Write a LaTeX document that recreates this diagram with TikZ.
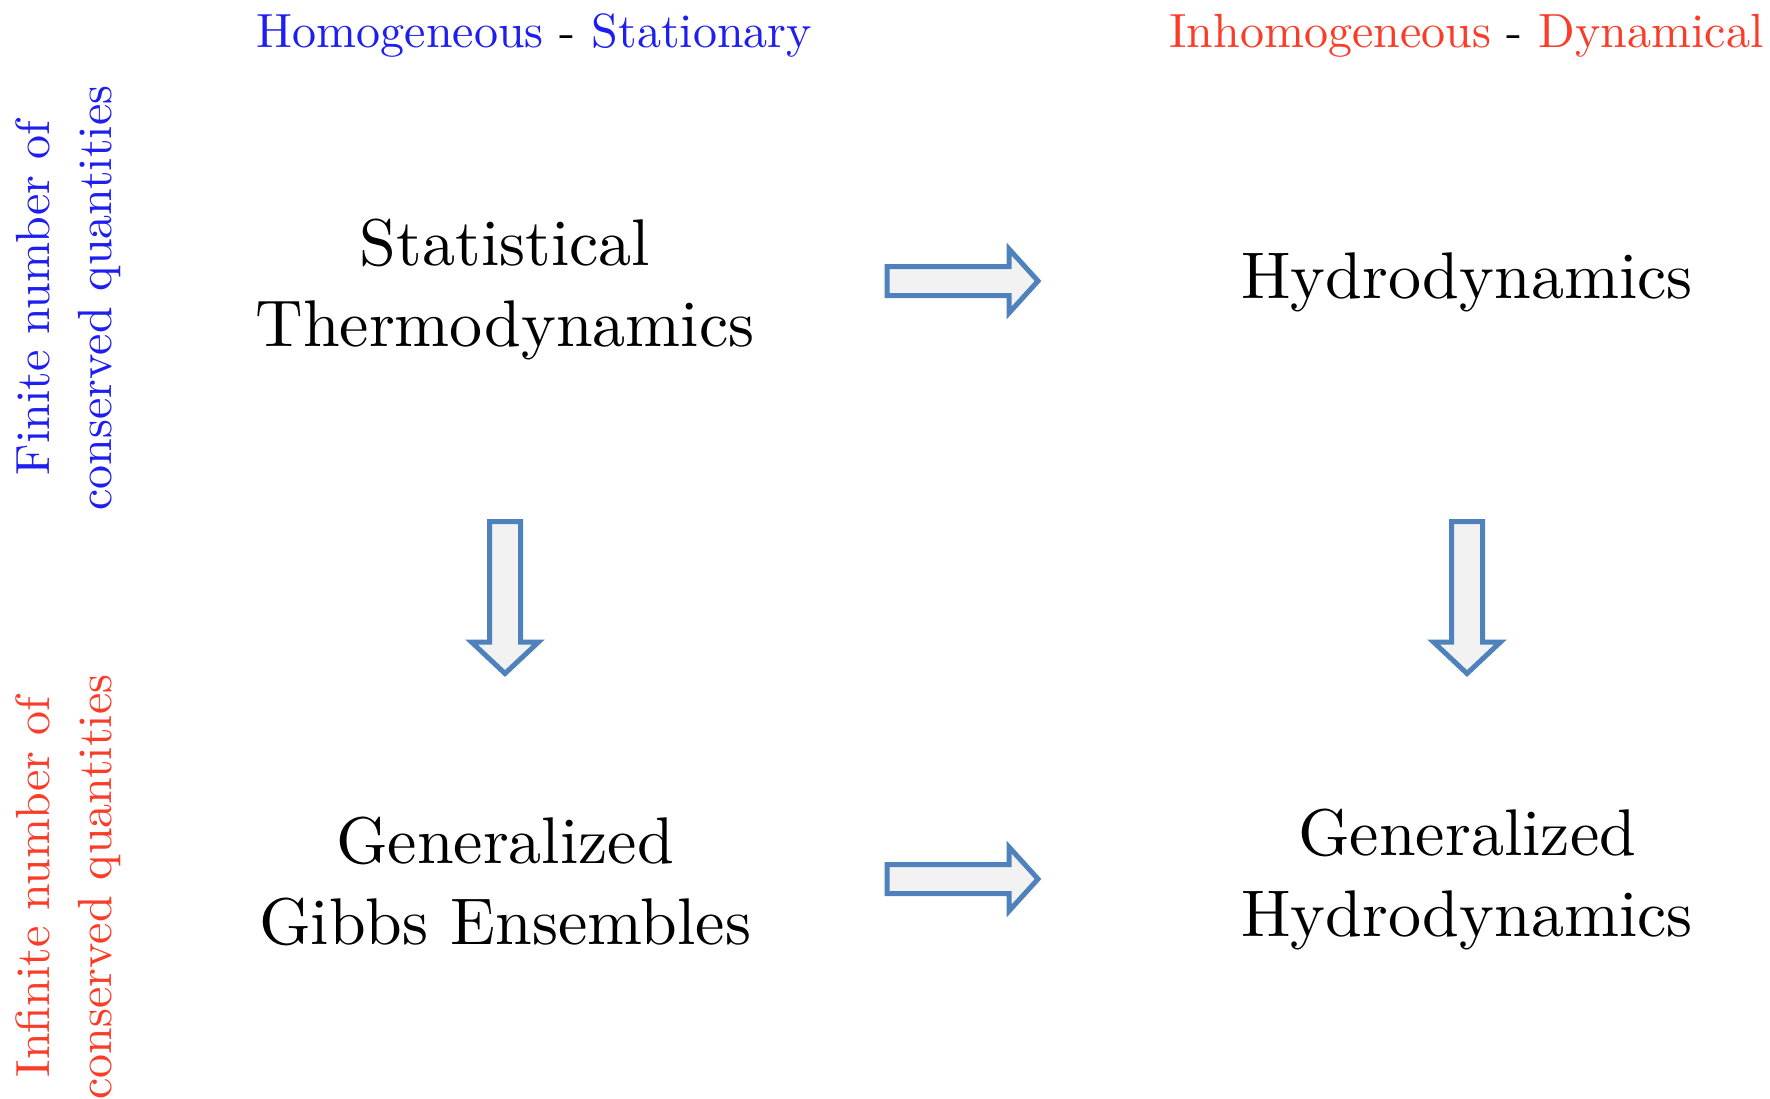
\documentclass[tikz,border=0pt]{standalone}
\usepackage{fontspec}
\setmainfont{lmroman10-regular}[Extension=.otf]
\definecolor{hblue}{RGB}{30,30,240}
\definecolor{hred}{RGB}{250,60,40}
\definecolor{arrowline}{HTML}{4F81BD}
\definecolor{arrowfill}{HTML}{F2F2F2}
\tikzset{
  header/.style={font=\fontsize{48}{58}\selectfont, inner sep=0pt, anchor=base},
  sidelabel/.style={font=\fontsize{48}{62}\selectfont, inner sep=0pt, align=center, rotate=90},
  maintext/.style={font=\fontsize{66}{81}\selectfont, inner sep=0pt, align=center},
  blockarrow/.style={draw=arrowline, fill=arrowfill, line width=5pt, line join=miter}
}
\begin{document}
\begin{tikzpicture}[x=1pt,y=-1pt]
\useasboundingbox (0,0) rectangle (1770,1098);
\fill[white] (0,0) rectangle (1770,1098);

% headers
\node[header] (hL) at (534.5,47) {\textcolor{hblue}{Homogeneous} - \textcolor{hblue}{Stationary}};
\node[header] (hR) at (1466.5,47) {\textcolor{hred}{Inhomogeneous} - \textcolor{hred}{Dynamical}};

% side labels
\node[sidelabel, text=hblue] (sT) at (68,298) {Finite number of\\conserved quantities};
\node[sidelabel, text=hred] (sB) at (68,887) {Infinite number of\\conserved quantities};

% main texts
\node[maintext, anchor=north] (st) at (505,219) {Statistical\\Thermodynamics};
\node[maintext, anchor=base] (hy) at (1467,298) {Hydrodynamics};
\node[maintext, anchor=north] (gge) at (505,817) {Generalized\\Gibbs Ensembles};
\node[maintext, anchor=north] (ghd) at (1467,809) {Generalized\\Hydrodynamics};

% arrows
\coordinate (a1) at (887,281);
\coordinate (a2) at (887,879);
\coordinate (a3) at (505,521.5);
\coordinate (a4) at (1467,521.5);

\draw[blockarrow] (a1) ++(0,-14.5) -- ++(122,0) -- ++(0,-17.5) -- ++(29,32) -- ++(-29,32) -- ++(0,-17.5) -- ++(-122,0) -- cycle;
\draw[blockarrow] (a2) ++(0,-14.5) -- ++(122,0) -- ++(0,-17.5) -- ++(29,32) -- ++(-29,32) -- ++(0,-17.5) -- ++(-122,0) -- cycle;
\draw[blockarrow] (a3) ++(-15.5,0) -- ++(0,120.5) -- ++(-18,0) -- ++(33.5,31.5) -- ++(33.5,-31.5) -- ++(-18,0) -- ++(0,-120.5) -- cycle;
\draw[blockarrow] (a4) ++(-15.5,0) -- ++(0,120.5) -- ++(-18,0) -- ++(33.5,31.5) -- ++(33.5,-31.5) -- ++(-18,0) -- ++(0,-120.5) -- cycle;
\end{tikzpicture}
\end{document}
